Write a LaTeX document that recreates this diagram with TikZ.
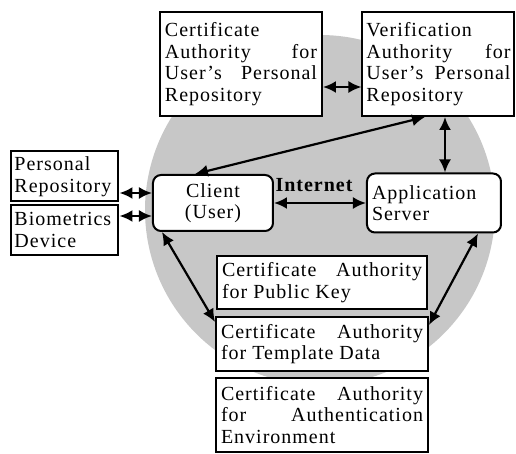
\documentclass[tikz,border=0pt]{standalone}
\usepackage{fontspec}
\setmainfont{Liberation Serif}[LetterSpace=5]
\usepackage{tikz}
\usetikzlibrary{arrows,arrows.meta,shapes,positioning}
\tikzstyle{link}=[draw,{Latex[length=6.5pt,width=6pt]}-{Latex[length=6.5pt,width=6pt]},line width=1.1pt]
\tikzstyle{tbox}=[draw,line width=1pt,fill=white,align=justify,inner xsep=2.5pt,inner ysep=1pt,font=\fontsize{10}{10.75}\selectfont]
\tikzstyle{rbox}=[tbox,rounded corners=4pt]

\begin{document}
\begin{tikzpicture}[x=0.5pt,y=-0.5pt]
\useasboundingbox (0,0) rectangle (516,454);
\fill[black!22] (320,210) circle [radius=175];

\node [tbox,text width=76pt,minimum height=52pt] (caurp) at (241,64) {Certificate\\Authority for\linebreak User's Personal\linebreak Repository};
\node [tbox,text width=72pt,inner xsep=2pt,minimum height=52pt,right of=caurp,node distance=98.75pt] (varp) {Verification\\Authority for\linebreak User's Personal\linebreak Repository};

\node [tbox,align=left,text width=50.5pt,inner xsep=1.5pt,minimum height=25pt] (pr) at (65,176.5) {Personal\\Repository};
\node [tbox,align=left,text width=50.5pt,inner xsep=1.5pt,minimum height=25pt,below of=pr,node distance=26.75pt] (bio) {Biometrics\\Device};

\node [rbox,align=center,text width=55pt,minimum height=28pt] (client) at (213,203) {Client\\(User)};
\node [rbox,align=left,text width=62pt,minimum height=29.5pt,right of=client,node distance=110.5pt] (app) {Application\\Server};

\node [tbox,text width=100pt,minimum height=26.5pt] (capk) at (322,282.5) {Certificate Authority\linebreak for Public Key};
\node [tbox,text width=101pt,minimum height=27pt,below of=capk,node distance=30.75pt] (catd) {Certificate Authority\linebreak for Template Data};
\node [tbox,text width=101pt,minimum height=37pt,below of=catd,node distance=35.5pt] (caae) {Certificate Authority\linebreak for Authentication\linebreak Environment};

\coordinate (vx) at ([xshift=3.25pt]varp.south);
\draw[link] ([yshift=-11.5pt]caurp.east) -- ([yshift=-11.5pt]varp.west);
\draw[link] ([xshift=-9pt]client.north) -- ([xshift=-6.75pt]varp.south);
\draw[link] (vx) -- (vx |- app.north);
\draw[link] ([yshift=-8.25pt]pr.east) -- ([yshift=-8.25pt]pr.east -| client.west);
\draw[link] ([yshift=7pt]bio.east) -- ([yshift=7pt]bio.east -| client.west);
\draw[link] (client) -- node[above=2pt,xshift=-3pt,font=\bfseries\fontsize{10}{10.75}\selectfont] (inet) {Internet} (app);
\draw[link] ([xshift=5pt]client.south west) -- ([yshift=11pt]catd.west);
\draw[link] ([xshift=-12pt]app.south east) -- ([yshift=9.5pt]catd.east);
\end{tikzpicture}
\end{document}
